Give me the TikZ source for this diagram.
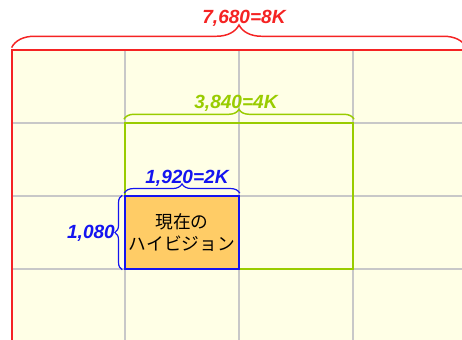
\documentclass[tikz,border=0pt]{standalone}
\usepackage{fontspec}
\setmainfont{Liberation Sans}
\newfontfamily\jpfont{Noto Sans CJK JP}
\usetikzlibrary{decorations.pathreplacing,fit}
\definecolor{bgyellow}{RGB}{255,255,230}
\definecolor{gridgray}{RGB}{200,200,200}
\definecolor{kred}{RGB}{245,35,35}
\definecolor{kgreen}{RGB}{153,204,0}
\definecolor{kblue}{RGB}{20,20,240}
\definecolor{hdorange}{RGB}{255,204,102}
\tikzset{
  gridline/.style={draw=gridgray, line width=1.1pt},
  dimlabel/.style={font=\fontsize{14.3}{16}\selectfont\bfseries\itshape, inner sep=0pt, anchor=base},
  bracedeco/.style={decorate, decoration={brace, amplitude=#1}},
}
\begin{document}
\begin{tikzpicture}[x=0.75pt,y=-0.75pt]
\useasboundingbox (0,0) rectangle (462,340);
\clip (0,0) rectangle (462,340);
\fill[white] (0,0) rectangle (462,340);
\fill[bgyellow] (12,50) rectangle (470,345);
% grid
\foreach \gx in {125,239,353} \draw[gridline] (\gx,50) -- (\gx,345);
\foreach \gy in {123,196,269} \draw[gridline] (12,\gy) -- (470,\gy);
% 8K
\node (R8) [draw=kred, line width=1.6pt, inner sep=0pt, fit={(12,50) (466,342)}] {};
\draw[kred, line width=1.1pt, bracedeco=17pt] ([xshift=0.5pt,yshift=1pt]R8.north west) -- ([xshift=-0.5pt,yshift=1pt]R8.north east);
\node (L8) [dimlabel, text=kred] at (244,23) {7,680=8K};
% 4K
\node (R4) [draw=kgreen, line width=1.6pt, inner sep=0pt, fit={(125,123) (353,269)}] {};
\draw[kgreen, line width=1.1pt, bracedeco=7.5pt] ([yshift=2pt]R4.north west) -- ([yshift=2pt]R4.north east);
\node (L4) [dimlabel, text=kgreen] at (236,108) {3,840=4K};
% 2K
\node (R2) [draw=kblue, fill=hdorange, line width=1.2pt, inner sep=0pt, fit={(125,196) (239,269)}] {};
\node (T2) [font=\jpfont\fontsize{13.3}{16.5}\selectfont, align=center, inner sep=0pt] at (R2.center) {現在の\\ハイビジョン};
\draw[kblue, line width=0.9pt, bracedeco=7pt] ([yshift=1.5pt]R2.north west) -- ([yshift=1.5pt]R2.north east);
\node (L2) [dimlabel, text=kblue] at (187,183) {1,920=2K};
\draw[kblue, line width=0.9pt, bracedeco=5.5pt] ([xshift=-1.5pt]R2.south west) -- ([xshift=-1.5pt]R2.north west);
\node (LH) [dimlabel, text=kblue] at (91,238) {1,080};
\end{tikzpicture}
\end{document}
